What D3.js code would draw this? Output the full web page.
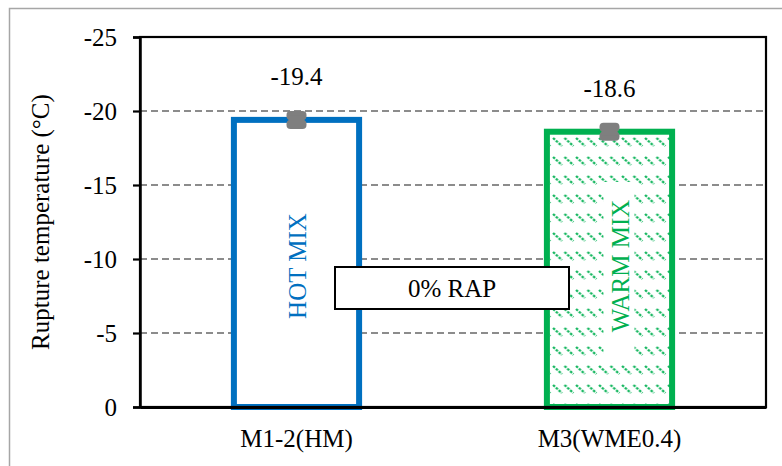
<!DOCTYPE html>
<html>
<head>
<meta charset="utf-8">
<script src="https://cdn.jsdelivr.net/npm/d3@7"></script>
<style>
  html, body { margin: 0; padding: 0; background: #fff; }
  svg { display: block; font-family: "Liberation Serif", "Times New Roman", serif; }
</style>
</head>
<body>
<svg id="chart" width="782" height="466"></svg>
<script>
const categories = ["M1-2(HM)", "M3(WME0.4)"];
const values = [-19.4, -18.6];
const valueLabels = ["-19.4", "-18.6"];
const mixLabels = ["HOT MIX", "WARM MIX"];
const barColors = ["#0070c0", "#00b050"];
const yTicks = [0, -5, -10, -15, -20, -25];
const yTitle = "Rupture temperature (°C)";
const boxLabel = "0% RAP";

const svg = d3.select("#chart");
const pLeft = 140, pRight = 766, pTop = 37, pBottom = 407;
const fs = 25;

// outer chart border
svg.append("rect").attr("x", 9.5).attr("y", 8.5).attr("width", 800).attr("height", 500)
  .attr("fill", "#fff").attr("stroke", "#a6a6a6").attr("stroke-width", 1.5);

const defs = svg.append("defs");
const pat = defs.append("pattern").attr("id", "hatch").attr("patternUnits", "userSpaceOnUse")
  .attr("width", 11.5).attr("height", 19).attr("x", 0).attr("y", 4);
pat.append("rect").attr("width", 11.5).attr("height", 19).attr("fill", "#fff");
pat.append("line").attr("x1", 1).attr("y1", 1).attr("x2", 10).attr("y2", 9)
  .attr("stroke", "#00b050").attr("stroke-width", 2.3).attr("stroke-dasharray", "2.6,1.2").attr("opacity", 0.9);

const x = d3.scaleBand().domain(categories).range([pLeft, pRight]).paddingInner(0.6).paddingOuter(0.3);
const y = d3.scaleLinear().domain([0, -25]).range([pBottom, pTop]);

// gridlines
svg.append("g").selectAll("line").data(yTicks.filter(d => d !== 0 && d !== -25)).join("line")
  .attr("x1", pLeft).attr("x2", pRight).attr("y1", d => y(d)).attr("y2", d => y(d))
  .attr("stroke", "#8c8c8c").attr("stroke-width", 1.8).attr("stroke-dasharray", "7,4");

// bars
const bars = svg.append("g");
categories.forEach((c, i) => {
  bars.append("rect")
    .attr("x", x(c)).attr("y", y(values[i]))
    .attr("width", x.bandwidth()).attr("height", y(0) - y(values[i]))
    .attr("fill", i === 1 ? "url(#hatch)" : "#fff")
    .attr("stroke", barColors[i]).attr("stroke-width", 6);
});

// white box behind WARM MIX
const wmCx = x(categories[1]) + x.bandwidth() / 2;
svg.append("rect").attr("x", wmCx - 6).attr("y", 182).attr("width", 31).attr("height", 176).attr("fill", "#fff");

// mix labels
svg.append("text").attr("transform", `translate(${x(categories[0]) + x.bandwidth() / 2 + 1},266) rotate(-90)`)
  .attr("text-anchor", "middle").attr("dominant-baseline", "central")
  .attr("font-size", fs).attr("fill", barColors[0]).text(mixLabels[0]);
svg.append("text").attr("transform", `translate(${wmCx + 11},266) rotate(-90)`)
  .attr("text-anchor", "middle").attr("dominant-baseline", "central")
  .attr("font-size", fs).attr("fill", barColors[1]).text(mixLabels[1]);

// error markers
categories.forEach((c, i) => {
  const cx = x(c) + x.bandwidth() / 2, cy = y(values[i]);
  const g = svg.append("g").attr("fill", "#7f7f7f");
  g.append("rect").attr("x", cx - 10).attr("y", cy - 9).attr("width", 20).attr("height", 9).attr("rx", 4);
  g.append("rect").attr("x", cx - 10).attr("y", cy).attr("width", 20).attr("height", 9).attr("rx", 4);
  g.append("rect").attr("x", cx - 8).attr("y", cy - 4).attr("width", 16).attr("height", 8);
});

// value labels
svg.append("g").selectAll("text").data(categories).join("text")
  .attr("x", d => x(d) + x.bandwidth() / 2).attr("y", (d, i) => y(values[i]) - 43)
  .attr("text-anchor", "middle").attr("dominant-baseline", "central")
  .attr("font-size", fs).attr("fill", "#000").text((d, i) => valueLabels[i]);

// plot frame
svg.append("rect").attr("x", pLeft).attr("y", pTop).attr("width", pRight - pLeft).attr("height", pBottom - pTop)
  .attr("fill", "none").attr("stroke", "#000").attr("stroke-width", 2.2);

// y axis
const yAxis = svg.append("g").attr("transform", `translate(${pLeft},0)`)
  .call(d3.axisLeft(y).tickValues(yTicks).tickSize(7).tickPadding(16).tickFormat(d => String(d)));
yAxis.select(".domain").attr("stroke", "#000").attr("stroke-width", 2.5);
yAxis.selectAll(".tick line").attr("stroke", "#000").attr("stroke-width", 2.2);
yAxis.selectAll(".tick text").attr("font-size", fs).attr("fill", "#000")
  .attr("font-family", "'Liberation Serif', serif").attr("dy", "0.32em");

// x axis
const xAxis = svg.append("g").attr("transform", `translate(0,${pBottom})`)
  .call(d3.axisBottom(x).tickSize(0).tickPadding(22));
xAxis.select(".domain").attr("stroke", "#000").attr("stroke-width", 3);
xAxis.selectAll(".tick text").attr("font-size", fs).attr("fill", "#000")
  .attr("font-family", "'Liberation Serif', serif");

// y title
svg.append("text").attr("transform", "translate(40,222) rotate(-90)")
  .attr("text-anchor", "middle").attr("dominant-baseline", "central")
  .attr("font-size", fs).attr("fill", "#000").text(yTitle);

// 0% RAP box
const bx = 335, by = 267, bw = 234, bh = 42;
svg.append("rect").attr("x", bx).attr("y", by).attr("width", bw).attr("height", bh)
  .attr("fill", "#fff").attr("stroke", "#000").attr("stroke-width", 2);
svg.append("text").attr("x", bx + bw / 2).attr("y", by + bh / 2)
  .attr("text-anchor", "middle").attr("dominant-baseline", "central")
  .attr("font-size", fs).attr("fill", "#000").text(boxLabel);
</script>
</body>
</html>
